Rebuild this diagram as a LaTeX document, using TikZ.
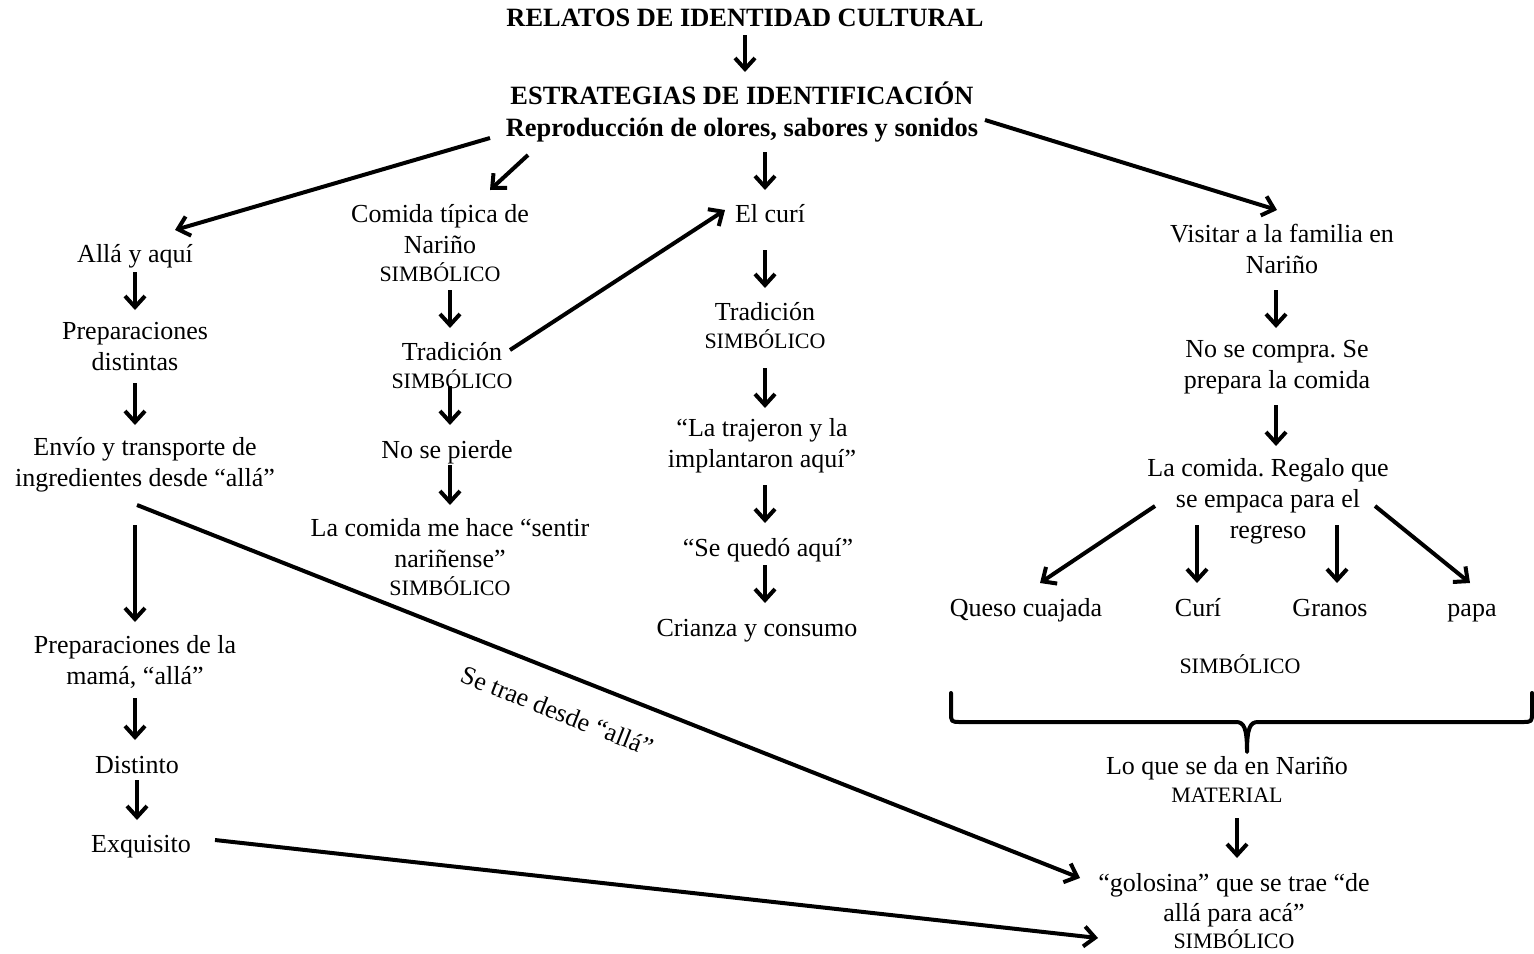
\documentclass[tikz,border=0pt]{standalone}
\usepackage{fontspec}
\setmainfont{LiberationSerif}[Extension=.ttf,UprightFont=*-Regular,BoldFont=*-Bold,ItalicFont=*-Italic,BoldItalicFont=*-BoldItalic]
\usetikzlibrary{arrows.meta}
\frenchspacing
\newcommand\simb[1]{{\fontsize{11}{12}\selectfont #1}}
\begin{document}
\begin{tikzpicture}[x=0.5pt,y=-0.5pt,
  txt/.style={font=\fontsize{13}{15.5}\selectfont, align=center, inner sep=0pt},
  one/.style={txt, text height=10pt, text depth=3pt},
  head/.style={font=\bfseries\fontsize{13.2}{16}\selectfont, align=center, inner sep=0pt},
  arr/.style={line width=2pt, -{Straight Barb[length=5.5pt,width=10pt]}},
  brace/.style={line width=2pt, line cap=round, line join=round}]
\useasboundingbox (0,0) rectangle (1534,953);

% headings
\node[head] (title) at (745,18) {RELATOS DE IDENTIDAD CULTURAL};
\node[head] (strat) at (742,112) {ESTRATEGIAS DE IDENTIFICACIÓN\\Reproducción de olores, sabores y sonidos};

% left column
\node[one] (alla) at (135,255) {Allá y aquí};
\node[txt] (prep) at (135,347) {Preparaciones\\distintas};
\node[txt] (envio) at (145,465) {Envío y transporte de\\ingredientes desde “allá”};
\node[txt] (mama) at (135,662) {Preparaciones de la\\mamá, “allá”};
\node[one] (distinto) at (137,766) {Distinto};
\node[one] (exq) at (141,845) {Exquisito};

% second column
\node[txt] (comida) at (440,243) {Comida típica de\\Nariño\\[-1.5pt]\simb{SIMBÓLICO}};
\node[txt] (trad1) at (452,366) {Tradición\\[-1.5pt]\simb{SIMBÓLICO}};
\node[one] (nopierde) at (447,451) {No se pierde};
\node[txt] (sentir) at (450,557) {La comida me hace “sentir\\nariñense”\\[-1.5pt]\simb{SIMBÓLICO}};

% third column
\node[one] (curi) at (770,215) {El curí};
\node[txt] (trad2) at (765,326) {Tradición\\[-1.5pt]\simb{SIMBÓLICO}};
\node[txt] (trajeron) at (762,446) {“La trajeron y la\\implantaron aquí”};
\node[one] (quedo) at (768,549) {“Se quedó aquí”};
\node[one] (crianza) at (757,629) {Crianza y consumo};

% right column
\node[txt] (visitar) at (1282,249) {Visitar a la familia en\\Nariño};
\node[txt] (nocompra) at (1277,367) {No se compra. Se\\prepara la comida};
\node[txt] (regalo) at (1268,501) {La comida. Regalo que\\se empaca para el\\regreso};
\node[one] (queso) at (1026,609) {Queso cuajada};
\node[one] (curi2) at (1198,609) {Curí};
\node[one] (granos) at (1330,609) {Granos};
\node[one] (papa) at (1472,609) {papa};
\node[txt] (simb) at (1240,664) {\simb{SIMBÓLICO}};
\node[txt] (loque) at (1227,779) {Lo que se da en Nariño\\[-1.5pt]\simb{MATERIAL}};
\node[txt] (golosina) at (1234,911) {“golosina” que se trae “de\\[-0.5pt]allá para acá”\\[-2pt]\simb{SIMBÓLICO}};

% brace gathering the four foods
\coordinate (bl) at (951,693);
\coordinate (br) at (1532,693);
\coordinate (tip) at (1247,752);
\draw[brace] (bl) -- (951,712) .. controls (951,722) .. (961,722) -- (1236,722)
  .. controls (1244,722) and (1247,728) .. (tip)
  .. controls (1247,728) and (1250,722) .. (1258,722)
  -- (1522,722) .. controls (1532,722) .. (1532,712) -- (br);

% connectors
\draw[arr] ([shift={(0,17)}]title.center) -- ([shift={(3,-40)}]strat.center);
\draw[arr] ([shift={(-252,26)}]strat.center) -- ([shift={(40,-25)}]alla.center);
\draw[arr] ([shift={(-214,43)}]strat.center) -- ([shift={(50,-53)}]comida.center);
\draw[arr] ([shift={(23,40)}]strat.center) -- ([shift={(-5,-25)}]curi.center);
\draw[arr] ([shift={(243,8)}]strat.center) -- ([shift={(-5,-39)}]visitar.center);

\draw[arr] ([shift={(0,17)}]alla.center) -- ([shift={(0,-37)}]prep.center);
\draw[arr] ([shift={(0,36)}]prep.center) -- ([shift={(-10,-40)}]envio.center);
\draw[arr] ([shift={(-10,60)}]envio.center) -- ([shift={(0,-40)}]mama.center);
\draw[arr] ([shift={(-8,40)}]envio.center) -- ([shift={(-154,-33)}]golosina.center)
  node[pos=0.46, below=13pt, sloped, inner sep=0pt, font=\fontsize{13}{15}\selectfont] {Se trae desde “allá”};
\draw[arr] ([shift={(0,36)}]mama.center) -- ([shift={(-2,-26)}]distinto.center);
\draw[arr] ([shift={(0,14)}]distinto.center) -- ([shift={(-4,-25)}]exq.center);
\draw[arr] ([shift={(74,-5)}]exq.center) -- ([shift={(-136,27)}]golosina.center);

\draw[arr] ([shift={(10,47)}]comida.center) -- ([shift={(-2,-38)}]trad1.center);
\draw[arr] ([shift={(-2,20)}]trad1.center) -- ([shift={(3,-26)}]nopierde.center);
\draw[arr] ([shift={(3,14)}]nopierde.center) -- ([shift={(0,-52)}]sentir.center);
\draw[arr] ([shift={(58,-16)}]trad1.center) -- ([shift={(-45,-5)}]curi.center);

\draw[arr] ([shift={(-5,35)}]curi.center) -- ([shift={(0,-38)}]trad2.center);
\draw[arr] ([shift={(0,42)}]trad2.center) -- ([shift={(3,-38)}]trajeron.center);
\draw[arr] ([shift={(3,39)}]trajeron.center) -- ([shift={(-3,-26)}]quedo.center);
\draw[arr] ([shift={(-3,16)}]quedo.center) -- ([shift={(8,-26)}]crianza.center);

\draw[arr] ([shift={(-6,41)}]visitar.center) -- ([shift={(-1,-39)}]nocompra.center);
\draw[arr] ([shift={(-1,38)}]nocompra.center) -- ([shift={(8,-55)}]regalo.center);
\draw[arr] ([shift={(-113,5)}]regalo.center) -- ([shift={(14,-26)}]queso.center);
\draw[arr] ([shift={(-71,24)}]regalo.center) -- ([shift={(-1,-26)}]curi2.center);
\draw[arr] ([shift={(69,24)}]regalo.center) -- ([shift={(7,-26)}]granos.center);
\draw[arr] ([shift={(107,5)}]regalo.center) -- ([shift={(-2,-26)}]papa.center);

\draw[arr] ([shift={(10,39)}]loque.center) -- ([shift={(3,-53)}]golosina.center);
\end{tikzpicture}
\end{document}
